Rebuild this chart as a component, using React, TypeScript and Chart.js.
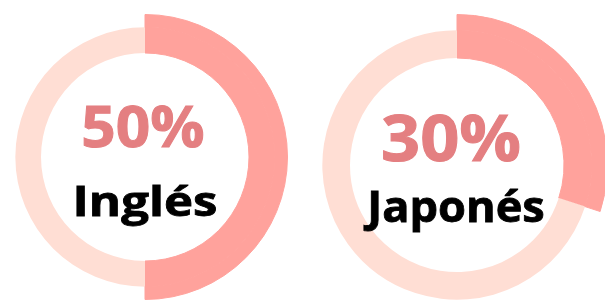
import React, { useEffect, useRef } from "react";
import { Chart, registerables } from "chart.js";

Chart.register(...registerables);

// Data
const languages = ["Inglés", "Japonés"];
const percentages = [50, 30];
const percentLabels = ["50%", "30%"];

// Styles
const highlightColor = "#FFA29C";
const ringColor = "#FFDED4";
const percentColor = "#E47F81";

type Geo = {
  cx: number; cy: number; R: number; ringOuter: number; inner: number;
  pctSize: number; pctTop: number; pctX: number; pctScale: number;
  nameSize: number; nameTop: number; nameX: number; nameScale: number;
};

const geos: Geo[] = [
  { cx: 145, cy: 157, R: 143, ringOuter: 130, inner: 104, pctSize: 58, pctTop: 96, pctX: 142.5, pctScale: 1.04, nameSize: 42, nameTop: 179, nameX: 144.5, nameScale: 1.17 },
  { cx: 457, cy: 165, R: 151, ringOuter: 135, inner: 107, pctSize: 64, pctTop: 105, pctX: 451, pctScale: 1.07, nameSize: 43, nameTop: 184, nameX: 455.5, nameScale: 1.05 },
];

function Donut({ value, geo }: { value: number; geo: Geo }) {
  const ref = useRef<HTMLCanvasElement | null>(null);
  useEffect(() => {
    if (!ref.current) return;
    const rest = 100 - value;
    const chart = new Chart(ref.current, {
      type: "doughnut",
      data: {
        labels: ["valor", "resto"],
        datasets: [
          {
            data: [value, rest],
            backgroundColor: [highlightColor, "rgba(0,0,0,0)"],
            borderColor: [highlightColor, "rgba(0,0,0,0)"],
            borderWidth: [1, 0],
            weight: geo.R - geo.ringOuter,
          },
          {
            data: [value, rest],
            backgroundColor: [highlightColor, ringColor],
            borderColor: [highlightColor, ringColor],
            borderWidth: [1, 0],
            weight: geo.ringOuter - geo.inner,
          },
        ],
      },
      options: {
        animation: false,
        responsive: false,
        cutout: geo.inner,
        hoverOffset: 0,
        offset: 0,
        layout: { padding: 0 },
        plugins: { legend: { display: false }, tooltip: { enabled: false } },
        events: [],
      } as any,
    });
    return () => chart.destroy();
  }, [value, geo]);
  return (
    <canvas
      ref={ref}
      width={geo.R * 2}
      height={geo.R * 2}
      style={{ position: "absolute", left: geo.cx - geo.R, top: geo.cy - geo.R, width: geo.R * 2, height: geo.R * 2 }}
    />
  );
}

export default function App() {
  return (
    <div style={{ position: "fixed", left: 0, top: 0, width: 605, height: 306, background: "#fff", overflow: "hidden" }}>
      {languages.map((lang, i) => {
        const g = geos[i];
        return (
          <React.Fragment key={lang}>
            <Donut value={percentages[i]} geo={g} />
            <div
              style={{
                position: "absolute", left: g.pctX, top: g.pctTop, transform: `translateX(-50%) scaleX(${g.pctScale})`,
                fontFamily: "'Open Sans', sans-serif", fontWeight: 700, fontSize: g.pctSize, lineHeight: 1,
                color: percentColor, whiteSpace: "nowrap", WebkitTextStroke: `1px ${percentColor}`,
              }}
            >
              {percentLabels[i]}
            </div>
            <div
              style={{
                position: "absolute", left: g.nameX, top: g.nameTop, transform: `translateX(-50%) scaleX(${g.nameScale})`,
                fontFamily: "'Open Sans', sans-serif", fontWeight: 700, fontSize: g.nameSize, lineHeight: 1,
                color: "#000", whiteSpace: "nowrap", WebkitTextStroke: "0.8px #000",
              }}
            >
              {lang}
            </div>
          </React.Fragment>
        );
      })}
    </div>
  );
}
